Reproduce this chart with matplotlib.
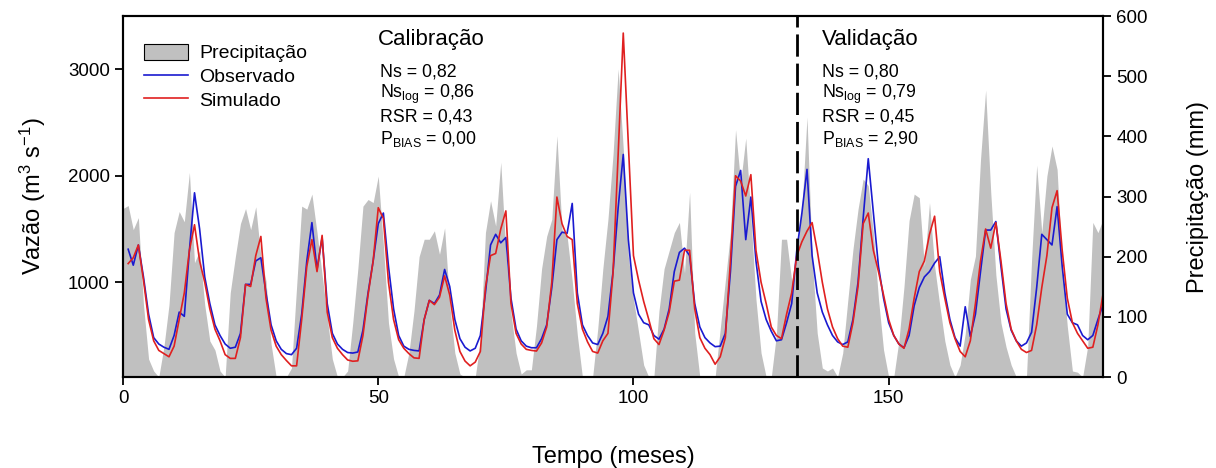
import matplotlib
matplotlib.use('Agg')
import matplotlib.pyplot as plt
import matplotlib.patches as mpatches
from matplotlib.lines import Line2D
import numpy

plt.rcParams['font.family'] = ['Liberation Sans', 'DejaVu Sans']
plt.rcParams['mathtext.default'] = 'regular'

# ========================== DATA ==========================
# monthly precipitation (mm), months 0..192
precip_mm = [
    280, 285, 245, 265, 120, 30, 10, 0, 50, 120,
    240, 275, 258, 340, 190, 210, 120, 60, 45, 10,
    0, 140, 200, 255, 280, 245, 283, 200, 160, 55,
    0, 0, 0, 15, 150, 284, 279, 304, 240, 170,
    100, 30, 0, 0, 10, 90, 180, 284, 295, 290,
    334, 220, 90, 30, 0, 0, 40, 110, 200, 229,
    229, 243, 204, 248, 120, 40, 5, 0, 0, 0,
    60, 240, 293, 251, 357, 207, 107, 40, 5, 12,
    12, 85, 180, 234, 262, 401, 245, 234, 160, 70,
    0, 0, 0, 80, 180, 262, 370, 512, 380, 200,
    130, 75, 20, 0, 0, 110, 180, 210, 240, 257,
    173, 307, 73, 0, 0, 0, 0, 80, 160, 240,
    411, 323, 397, 268, 129, 40, 0, 0, 70, 229,
    229, 160, 200, 279, 432, 200, 73, 15, 10, 15,
    0, 40, 128, 212, 279, 329, 318, 240, 130, 45,
    0, 0, 60, 150, 260, 304, 298, 184, 290, 184,
    120, 60, 20, 0, 20, 72, 162, 201, 362, 477,
    307, 170, 90, 50, 20, 0, 0, 0, 195, 352,
    240, 334, 384, 345, 184, 84, 10, 8, 0, 51,
    257, 240, 262,
]

# observed discharge (m3/s), months 1..192
observado = [
    1310, 1160, 1350, 1050, 700, 480, 420, 390, 370, 500,
    720, 680, 1300, 1840, 1500, 1050, 800, 600, 500, 420,
    380, 390, 520, 980, 980, 1200, 1230, 900, 600, 450,
    370, 330, 320, 380, 700, 1200, 1560, 1120, 1420, 800,
    520, 420, 370, 340, 335, 345, 550, 900, 1200, 1550,
    1650, 1150, 750, 500, 400, 370, 360, 355, 650, 830,
    800, 880, 1120, 960, 650, 470, 390, 355, 380, 500,
    900, 1350, 1450, 1370, 1420, 850, 560, 450, 400, 385,
    385, 470, 600, 950, 1400, 1470, 1460, 1740, 900, 600,
    500, 430, 415, 520, 680, 1100, 1700, 2200, 1400, 900,
    700, 620, 600, 500, 465, 560, 750, 1100, 1280, 1320,
    1250, 800, 580, 480, 430, 395, 400, 520, 1100, 1900,
    2050, 1400, 1800, 1200, 820, 650, 540, 450, 460, 620,
    800, 1300, 1650, 2060, 1250, 900, 720, 600, 500, 440,
    415, 440, 650, 1000, 1600, 2160, 1650, 1150, 850, 620,
    500, 420, 385, 500, 780, 950, 1050, 1100, 1180, 1240,
    900, 650, 480, 400, 770, 490, 700, 1100, 1490, 1490,
    1570, 1150, 750, 550, 450, 400, 430, 530, 950, 1450,
    1400, 1350, 1710, 1150, 700, 620, 600, 500, 460, 500,
    650, 790,
]

# simulated discharge (m3/s), months 1..192
simulado = [
    1175, 1230, 1350, 1020, 650, 450, 360, 330, 300, 400,
    650, 900, 1300, 1540, 1200, 1000, 750, 560, 450, 320,
    285, 285, 480, 980, 960, 1250, 1430, 850, 550, 400,
    320, 265, 215, 215, 650, 1150, 1400, 1100, 1440, 720,
    480, 380, 320, 270, 258, 262, 500, 880, 1200, 1700,
    1600, 1000, 650, 460, 380, 330, 290, 285, 650, 830,
    790, 860, 1060, 880, 550, 350, 260, 215, 250, 350,
    950, 1250, 1270, 1500, 1670, 800, 520, 420, 370, 360,
    354, 430, 580, 1000, 1800, 1550, 1430, 1400, 800, 560,
    440, 350, 335, 450, 520, 1090, 2200, 3340, 2300, 1250,
    1020, 820, 650, 470, 415, 550, 720, 1010, 1020, 1300,
    1300, 750, 480, 380, 320, 230, 300, 480, 1200, 2000,
    1950, 1810, 2010, 1300, 1000, 800, 580, 500, 470, 700,
    900, 1250, 1380, 1480, 1560, 1300, 1000, 750, 580, 470,
    400, 390, 620, 960, 1550, 1650, 1300, 1100, 880, 650,
    500, 420, 380, 560, 850, 1100, 1200, 1450, 1620, 1100,
    850, 620, 470, 350, 300, 450, 800, 1200, 1500, 1320,
    1560, 1200, 800, 560, 450, 370, 340, 360, 600, 950,
    1250, 1700, 1860, 1300, 850, 620, 520, 450, 380, 390,
    600, 890,
]

SPLIT_MONTH = 132

calib_stats = ['Ns = 0,82', 'Ns$_{log}$ = 0,86', 'RSR = 0,43', 'P$_{BIAS}$ = 0,00']
valid_stats = ['Ns = 0,80', 'Ns$_{log}$ = 0,79', 'RSR = 0,45', 'P$_{BIAS}$ = 2,90']
# ===========================================================

months_p = numpy.arange(len(precip_mm))
months_q = numpy.arange(1, len(observado) + 1)

fig = plt.figure(figsize=(12.16, 4.68), dpi=100)
ax = fig.add_axes([0.1012, 0.1944, 0.8059, 0.7714])
ax2 = ax.twinx()

# precipitation behind the discharge lines
ax2.fill_between(months_p, 0, precip_mm, color='#c0c0c0', linewidth=0)
ax2.set_ylim(0, 600)
ax2.set_yticks(range(0, 601, 100))
ax.set_zorder(ax2.get_zorder() + 1)
ax.patch.set_visible(False)

ax.plot(months_q, observado, color='#1a1ad0', linewidth=1.2)
ax.plot(months_q, simulado, color='#e02020', linewidth=1.2)
ax.axvline(SPLIT_MONTH, color='black', linestyle=(0, (8, 2.5)), linewidth=2)

ax.set_xlim(0, 192)
ax.set_ylim(110, 3500)
ax.set_xticks([0, 50, 100, 150])
ax.set_yticks([1000, 2000, 3000])

for a in (ax, ax2):
    for s in a.spines.values():
        s.set_linewidth(1.5)
    a.tick_params(direction='out', length=6, width=1.3, labelsize=13.5)

ax.set_xlabel('Tempo (meses)', fontsize=17, labelpad=28)
ax.set_ylabel('Vazão (m$^3$ s$^{-1}$)', fontsize=17, labelpad=14)
ax2.set_ylabel('Precipitação (mm)', fontsize=17, labelpad=28)

handles = [
    mpatches.Patch(facecolor='#c0c0c0', edgecolor='black', linewidth=0.8),
    Line2D([], [], color='#1a1ad0', linewidth=1.2),
    Line2D([], [], color='#e02020', linewidth=1.2),
]
ax.legend(handles, ['Precipitação', 'Observado', 'Simulado'], loc='upper left',
          bbox_to_anchor=(0.013, 0.945), frameon=False, fontsize=14,
          handlelength=2.3, handleheight=0.9, labelspacing=0.25, handletextpad=0.55,
          borderaxespad=0)

ax.text(0.26, 0.935, 'Calibração', transform=ax.transAxes, fontsize=16, va='center')
ax.text(0.713, 0.935, 'Validação', transform=ax.transAxes, fontsize=16, va='center')
for i, (c, v) in enumerate(zip(calib_stats, valid_stats)):
    y = 0.845 - i * 0.062
    ax.text(0.262, y, c, transform=ax.transAxes, fontsize=12.8, va='center')
    ax.text(0.713, y, v, transform=ax.transAxes, fontsize=12.8, va='center')

fig.savefig('out.png', dpi=100)
